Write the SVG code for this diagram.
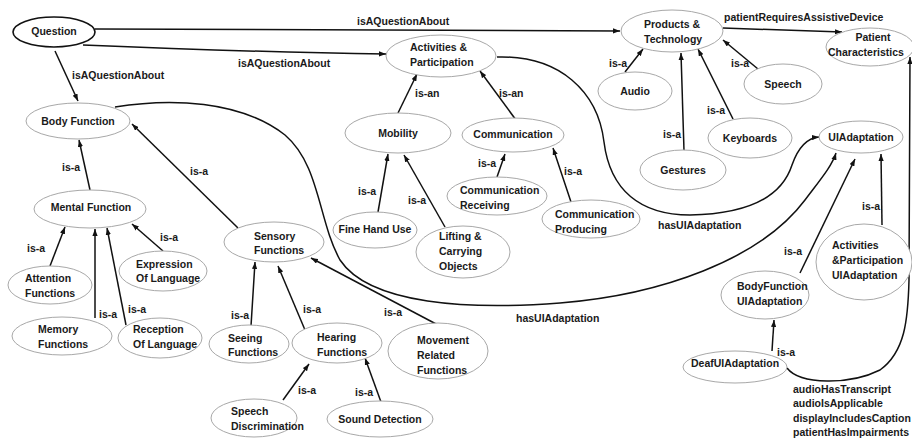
<svg xmlns="http://www.w3.org/2000/svg" width="912" height="439" viewBox="0 0 912 439">
<style>
text{font-family:"Liberation Sans",Arial,sans-serif;font-weight:bold;font-size:10.5px;fill:#1a1a1a}
.m{text-anchor:middle}
ellipse{fill:#fff;stroke:#a8a8a8;stroke-width:1}
.q{stroke:#111;stroke-width:1.6}
.e path,.e line{fill:none;stroke:#111;stroke-width:1.5;marker-end:url(#arr)}
</style>
<defs>
<marker id="arr" viewBox="0 0 8 6" refX="8" refY="3" markerWidth="7" markerHeight="5.5" markerUnits="userSpaceOnUse" orient="auto"><path d="M0,0 L8,3 L0,6 z" fill="#111"/></marker>
</defs>
<rect width="912" height="439" fill="#fff"/>
<g id="connectors" class="e">
<line x1="95" y1="29" x2="620" y2="31"/>
<path d="M83 45 Q250 52 386 54"/>
<line x1="55" y1="51" x2="78" y2="101"/>
<line x1="90" y1="190" x2="79" y2="140"/>
<line x1="238" y1="228" x2="132" y2="124"/>
<line x1="50" y1="266" x2="65" y2="227"/>
<line x1="95" y1="318" x2="95" y2="229"/>
<line x1="126" y1="325" x2="107" y2="228"/>
<line x1="163" y1="251" x2="132" y2="224"/>
<line x1="251" y1="326" x2="255" y2="262"/>
<line x1="305" y1="330" x2="278" y2="266"/>
<line x1="438" y1="325" x2="311" y2="258"/>
<line x1="283" y1="400" x2="309" y2="364"/>
<line x1="381" y1="402" x2="365" y2="358"/>
<line x1="398" y1="113" x2="417" y2="74"/>
<line x1="516" y1="120" x2="480" y2="71"/>
<line x1="378" y1="212" x2="388" y2="154"/>
<line x1="445" y1="227" x2="404" y2="155"/>
<line x1="497" y1="177" x2="505" y2="154"/>
<line x1="571" y1="202" x2="553" y2="148"/>
<line x1="625" y1="72" x2="643" y2="49"/>
<line x1="684" y1="151" x2="681" y2="53"/>
<line x1="733" y1="119" x2="698" y2="49"/>
<line x1="758" y1="69" x2="723" y2="40"/>
<line x1="723" y1="28" x2="842" y2="32"/>
<path d="M497 57 C560 55 598 92 604 142 C610 190 640 215 690 215 C750 214 782 196 792 165 C798 148 806 138 819 137"/>
<path d="M115 107 C170 98 240 100 285 135 C320 165 318 220 340 260 C370 305 470 310 560 303 C660 295 760 260 805 200 C820 180 832 166 836 153"/>
<line x1="800" y1="273" x2="855" y2="159"/>
<line x1="882" y1="225" x2="881" y2="154"/>
<line x1="772" y1="351" x2="774" y2="320"/>
<path d="M787 368 C800 385 850 385 880 370 C905 352 908 320 909 280 L910 57"/>
</g>
<g id="edge-labels">
<text x="357" y="25">isAQuestionAbout</text>
<text x="238" y="67">isAQuestionAbout</text>
<text x="72" y="79">isAQuestionAbout</text>
<text x="724" y="21">patientRequiresAssistiveDevice</text>
<text x="609" y="67">is-a</text>
<text x="731" y="67">is-a</text>
<text x="707" y="114">is-a</text>
<text x="663" y="138">is-a</text>
<text x="62" y="171">is-a</text>
<text x="190" y="175">is-a</text>
<text x="27" y="252">is-a</text>
<text x="160" y="241">is-a</text>
<text x="99" y="318">is-a</text>
<text x="128" y="313">is-a</text>
<text x="358" y="195">is-a</text>
<text x="408" y="204">is-a</text>
<text x="478" y="167">is-a</text>
<text x="564" y="175">is-a</text>
<text x="231" y="319">is-a</text>
<text x="303" y="313">is-a</text>
<text x="384" y="316">is-a</text>
<text x="298" y="394">is-a</text>
<text x="355" y="396">is-a</text>
<text x="784" y="255">is-a</text>
<text x="862" y="210">is-a</text>
<text x="777" y="356">is-a</text>
<text x="415" y="97">is-an</text>
<text x="499" y="97">is-an</text>
<text x="658" y="229">hasUIAdaptation</text>
<text x="516" y="322">hasUIAdaptation</text>
<text x="793" y="393">audioHasTranscript</text>
<text x="793" y="407">audioIsApplicable</text>
<text x="793" y="422">displayIncludesCaption</text>
<text x="793" y="436">patientHasImpairments</text>
</g>
<g id="n-question"><ellipse class="q" cx="54" cy="32" rx="41" ry="15"/><text class="m" x="54" y="35">Question</text></g>
<g id="n-bodyfunction"><ellipse cx="78" cy="121" rx="52" ry="18"/><text class="m" x="78" y="125">Body Function</text></g>
<g id="n-activities"><ellipse cx="441" cy="56" rx="55" ry="21"/><text x="410" y="51">Activities &amp;</text><text x="410" y="66">Participation</text></g>
<g id="n-products"><ellipse cx="672" cy="31" rx="51" ry="21"/><text x="644" y="28">Products &amp;</text><text x="644" y="43">Technology</text></g>
<g id="n-patient"><ellipse cx="870" cy="47" rx="44" ry="19"/><text class="m" x="873" y="41">Patient</text><text x="828" y="56">Characteristics</text></g>
<g id="n-audio"><ellipse cx="635" cy="91" rx="37" ry="19"/><text class="m" x="635" y="95">Audio</text></g>
<g id="n-speech"><ellipse cx="783" cy="84" rx="39" ry="20"/><text class="m" x="783" y="88">Speech</text></g>
<g id="n-keyboards"><ellipse cx="750" cy="138" rx="42" ry="20"/><text class="m" x="750" y="142">Keyboards</text></g>
<g id="n-gestures"><ellipse cx="683" cy="170" rx="43" ry="20"/><text class="m" x="683" y="174">Gestures</text></g>
<g id="n-uiadaptation"><ellipse cx="861" cy="137" rx="42" ry="16"/><text class="m" x="861" y="141">UIAdaptation</text></g>
<g id="n-apuiadaptation"><ellipse cx="864" cy="262" rx="48" ry="38"/><text x="832" y="249">Activities</text><text x="832" y="264">&amp;Participation</text><text x="832" y="279">UIAdaptation</text></g>
<g id="n-bfuiadaptation"><ellipse cx="765" cy="295" rx="44" ry="24"/><text x="737" y="290">BodyFunction</text><text x="737" y="305">UIAdaptation</text></g>
<g id="n-deaf"><ellipse cx="735" cy="367" rx="52" ry="16"/><text class="m" x="735" y="367">DeafUIAdaptation</text></g>
<g id="n-communication"><ellipse cx="513" cy="135" rx="51" ry="17"/><text class="m" x="513" y="138">Communication</text></g>
<g id="n-mobility"><ellipse cx="398" cy="133" rx="53" ry="20"/><text class="m" x="398" y="137">Mobility</text></g>
<g id="n-commrec"><ellipse cx="497" cy="196" rx="50" ry="19"/><text x="460" y="194">Communication</text><text x="460" y="209">Receiving</text></g>
<g id="n-commprod"><ellipse cx="591" cy="219" rx="49" ry="19"/><text x="555" y="218">Communication</text><text x="555" y="233">Producing</text></g>
<g id="n-finehand"><ellipse cx="375" cy="230" rx="42" ry="18"/><text class="m" x="375" y="233">Fine Hand Use</text></g>
<g id="n-lifting"><ellipse cx="463" cy="252" rx="47" ry="26"/><text x="439" y="240">Lifting &amp;</text><text x="439" y="255">Carrying</text><text x="439" y="270">Objects</text></g>
<g id="n-mental"><ellipse cx="90" cy="209" rx="56" ry="19"/><text class="m" x="91" y="211">Mental Function</text></g>
<g id="n-sensory"><ellipse cx="274" cy="242" rx="50" ry="20"/><text x="254" y="240">Sensory</text><text x="254" y="254">Functions</text></g>
<g id="n-expression"><ellipse cx="163" cy="271" rx="44" ry="20"/><text x="136" y="268">Expression</text><text x="136" y="282">Of Language</text></g>
<g id="n-attention"><ellipse cx="50" cy="285" rx="42" ry="19"/><text x="25" y="282">Attention</text><text x="25" y="297">Functions</text></g>
<g id="n-memory"><ellipse cx="62" cy="336" rx="50" ry="19"/><text x="38" y="333">Memory</text><text x="38" y="348">Functions</text></g>
<g id="n-reception"><ellipse cx="160" cy="338" rx="42" ry="20"/><text x="133" y="333">Reception</text><text x="133" y="348">Of Language</text></g>
<g id="n-seeing"><ellipse cx="249" cy="344" rx="40" ry="19"/><text x="228" y="342">Seeing</text><text x="228" y="356">Functions</text></g>
<g id="n-hearing"><ellipse cx="337" cy="343" rx="45" ry="20"/><text x="317" y="341">Hearing</text><text x="317" y="356">Functions</text></g>
<g id="n-movement"><ellipse cx="438" cy="351" rx="50" ry="28"/><text x="417" y="344">Movement</text><text x="417" y="359">Related</text><text x="417" y="374">Functions</text></g>
<g id="n-speechdisc"><ellipse cx="254" cy="418" rx="43" ry="19"/><text x="231" y="415">Speech</text><text x="231" y="430">Discrimination</text></g>
<g id="n-sounddet"><ellipse cx="380" cy="419" rx="53" ry="18"/><text class="m" x="380" y="423">Sound Detection</text></g>
</svg>
